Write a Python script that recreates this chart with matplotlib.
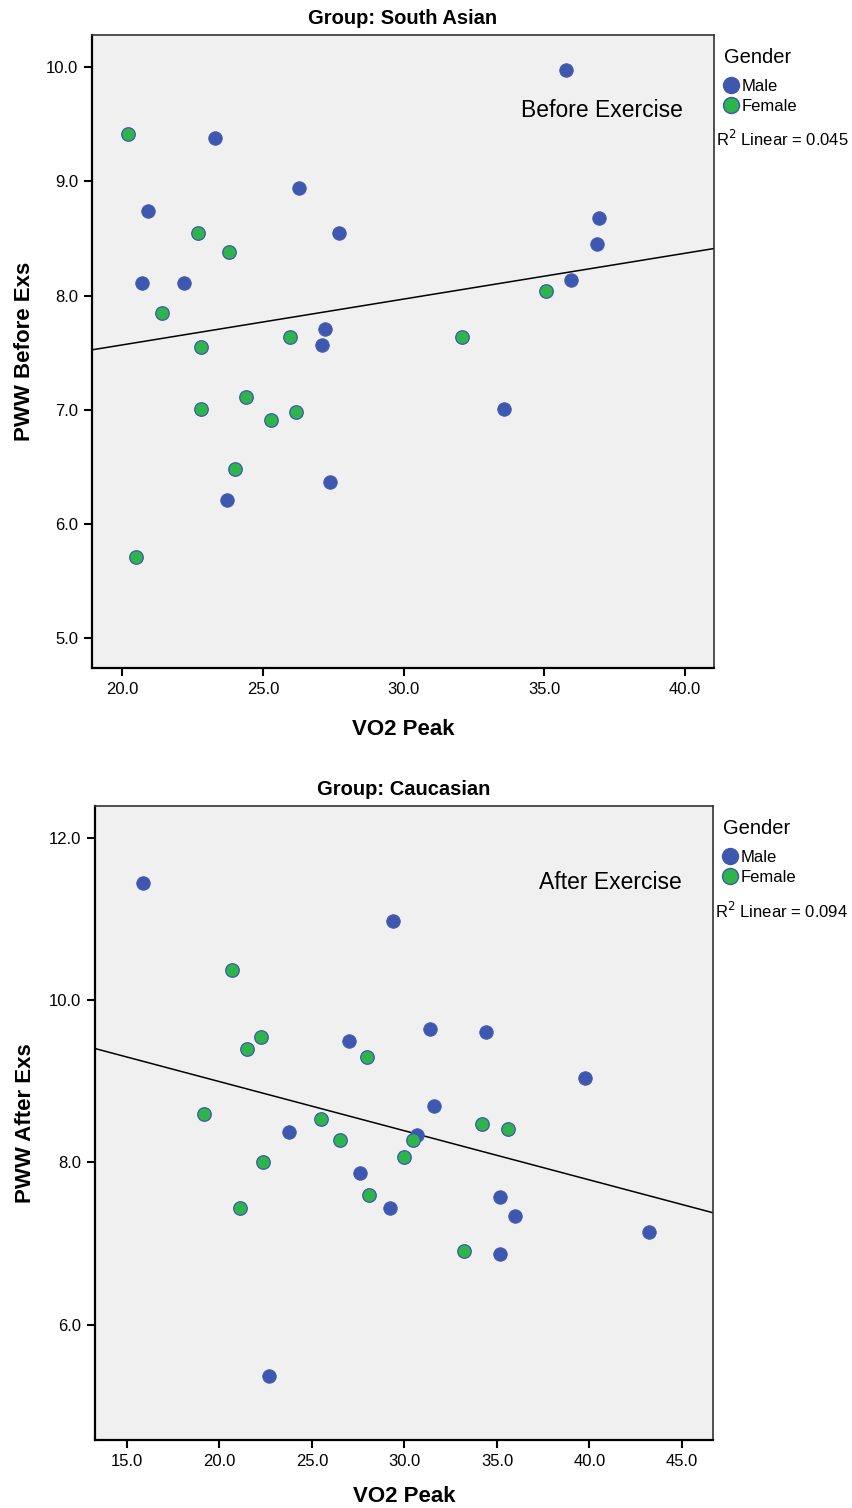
import numpy as np
import matplotlib
matplotlib.use("Agg")
import matplotlib.pyplot as plt
from matplotlib.lines import Line2D

plt.rcParams['font.family'] = ['Liberation Sans', 'DejaVu Sans']

# ---- South Asian (before exercise) ----
sa_male_x = [35.77, 23.30, 26.29, 20.92, 27.71, 36.94, 36.87, 20.71, 22.20, 35.95,
             27.21, 27.10, 33.57, 23.73, 27.39]
sa_male_y = [9.97, 9.38, 8.94, 8.74, 8.55, 8.68, 8.45, 8.11, 8.11, 8.14,
             7.71, 7.57, 7.01, 6.21, 6.37]
sa_female_x = [20.21, 22.70, 23.80, 21.42, 25.97, 22.81, 32.08, 35.06, 24.40, 22.81,
               25.29, 26.18, 24.01, 20.50]
sa_female_y = [9.41, 8.55, 8.38, 7.85, 7.64, 7.55, 7.64, 8.04, 7.11, 7.01,
               6.91, 6.98, 6.48, 5.71]
sa_r2 = "0.045"

# ---- Caucasian (after exercise) ----
ca_male_x = [15.86, 29.39, 26.98, 31.39, 34.39, 39.77, 31.58, 23.77, 30.69, 27.59,
             29.20, 35.18, 35.99, 43.20, 35.18, 22.68]
ca_male_y = [11.44, 10.97, 9.50, 9.64, 9.61, 9.04, 8.70, 8.37, 8.34, 7.87,
             7.44, 7.57, 7.34, 7.14, 6.87, 5.37]
ca_female_x = [20.68, 22.26, 21.47, 27.97, 19.18, 25.47, 26.50, 22.37, 21.09, 28.08,
               29.97, 30.48, 34.21, 35.58, 33.20]
ca_female_y = [10.37, 9.54, 9.40, 9.30, 8.60, 8.54, 8.27, 8.01, 7.44, 7.60,
               8.07, 8.27, 8.47, 8.41, 6.91]
ca_r2 = "0.094"

blue = '#3E58B0'
green = '#2DB44A'

fig = plt.figure(figsize=(8.52, 15.08), dpi=100)


def panel(rect, mx, my, fx, fy, xlim, ylim, xticks, yticks, title, ylabel, note, r2,
          xpad, ypad):
    ax = fig.add_axes(rect)
    ax.set_facecolor('#F0F0F0')
    ax.scatter(mx, my, s=95, color=blue, edgecolors=blue, linewidths=0.6, zorder=3)
    ax.scatter(fx, fy, s=95, color=green, edgecolors=blue, linewidths=0.9, zorder=3)

    # linear fit over all points
    allx = np.array(mx + fx)
    ally = np.array(my + fy)
    b, a = np.polyfit(allx, ally, 1)
    xx = np.array(xlim)
    ax.plot(xx, a + b * xx, color='black', linewidth=1.1, zorder=2)

    ax.set_xlim(xlim)
    ax.set_ylim(ylim)
    ax.set_xticks(xticks)
    ax.set_yticks(yticks)
    ax.set_xticklabels([f"{t:.1f}" for t in xticks])
    ax.set_yticklabels([f"{t:.1f}" for t in yticks])
    ax.tick_params(axis='both', direction='out', length=6, width=1.5, labelsize=12,
                   colors='black', pad=4)
    for side in ['left', 'bottom']:
        ax.spines[side].set_linewidth(1.6)
        ax.spines[side].set_color('black')
    for side in ['top', 'right']:
        ax.spines[side].set_linewidth(1.2)
        ax.spines[side].set_color('#333333')

    ax.set_title(title, fontsize=14.5, fontweight='bold', pad=8)
    ax.set_xlabel('VO2 Peak', fontsize=16, fontweight='bold', labelpad=xpad)
    ax.set_ylabel(ylabel, fontsize=16, fontweight='bold', labelpad=ypad)
    ax.text(0.95, 0.88, note, transform=ax.transAxes, fontsize=16.5,
            ha='right', va='center')

    handles = [
        Line2D([], [], linestyle='none', marker='o', markersize=11.5,
               markerfacecolor=blue, markeredgecolor=blue, label='Male'),
        Line2D([], [], linestyle='none', marker='o', markersize=11.5,
               markerfacecolor=green, markeredgecolor=blue, label='Female'),
    ]
    leg = ax.legend(handles=handles, title='Gender', loc='upper left',
                    bbox_to_anchor=(0.984, 1.011), frameon=False, fontsize=12,
                    title_fontsize=14.5, handlelength=0.8, handletextpad=0.25,
                    labelspacing=0.3, borderpad=0.9, borderaxespad=0.3)
    leg._legend_box.align = 'left'
    leg._legend_box.sep = 8.6
    ax.text(1.003, 0.835, r"R$^2$ Linear = " + r2, transform=ax.transAxes,
            fontsize=12, ha='left', va='center')
    return ax


panel([0.108, 0.557, 0.730, 0.4198], sa_male_x, sa_male_y, sa_female_x, sa_female_y,
      (18.93, 41.03), (4.74, 10.28), [20, 25, 30, 35, 40], [5, 6, 7, 8, 9, 10],
      'Group: South Asian', 'PWW Before Exs', 'Before Exercise', sa_r2, 16, 8)

panel([0.1115, 0.0451, 0.7254, 0.4204], ca_male_x, ca_male_y, ca_female_x, ca_female_y,
      (13.27, 46.68), (4.58, 12.39), [15, 20, 25, 30, 35, 40, 45], [6, 8, 10, 12],
      'Group: Caucasian', 'PWW After Exs', 'After Exercise', ca_r2, 12, 9)

fig.savefig('out.png', dpi=100)
